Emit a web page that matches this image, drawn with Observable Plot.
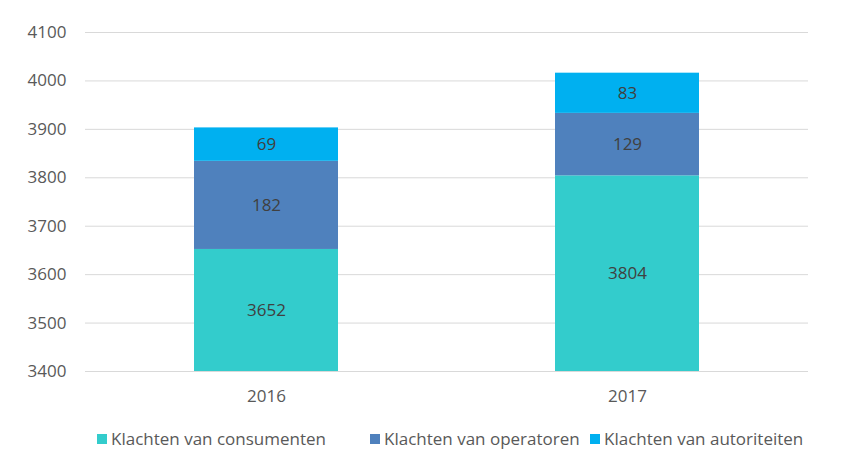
<!DOCTYPE html>
<html>
<head>
<meta charset="utf-8">
<script src="https://cdn.jsdelivr.net/npm/d3@7"></script>
<script src="https://cdn.jsdelivr.net/npm/@observablehq/plot@0.6"></script>
<style>
  body { margin: 0; background: #fff; font-family: "Open Sans", sans-serif; }
  #wrap { position: relative; width: 846px; height: 467px; }
  .leg { position: absolute; top: 427px; font-size: 17px; color: #595959; white-space: nowrap; display: flex; align-items: center; }
  .leg span.sw { display: inline-block; width: 10px; height: 10px; margin-right: 4px; }
</style>
</head>
<body>
<div id="wrap"><div id="chart"></div></div>
<script>
const years = ["2016", "2017"];
const seriesNames = ["Klachten van consumenten", "Klachten van operatoren", "Klachten van autoriteiten"];
const consumenten = [3652, 3804];
const operatoren = [182, 129];
const autoriteiten = [69, 83];
const colors = ["#33CCCC", "#4F81BD", "#00B0F0"];
const yTicks = [3400, 3500, 3600, 3700, 3800, 3900, 4000, 4100];
const legendLeft = [97, 370, 590];

const seriesValues = [consumenten, operatoren, autoriteiten];
const rows = [];
years.forEach((yr, i) => {
  let base = 0;
  seriesValues.forEach((vals, s) => {
    const v = vals[i];
    const lo = Math.max(base, yTicks[0]);
    const hi = Math.min(base + v, yTicks[yTicks.length - 1]);
    rows.push({year: yr, series: seriesNames[s], value: v, mid: (lo + hi) / 2});
    base += v;
  });
});

const chart = Plot.plot({
  width: 846,
  height: 410,
  marginLeft: 85,
  marginRight: 38,
  marginTop: 32,
  marginBottom: 39,
  style: {fontFamily: "Open Sans, sans-serif", fontSize: "17px", color: "#595959", background: "#fff"},
  x: {domain: years, paddingInner: 0.6, paddingOuter: 0.3, label: null},
  y: {domain: [3400, 4100], label: null},
  color: {domain: seriesNames, range: colors},
  marks: [
    Plot.ruleY(yTicks, {stroke: "#d9d9d9", strokeWidth: 1}),
    Plot.barY(rows, Plot.stackY({x: "year", y: "value", fill: "series", order: seriesNames, clip: true})),
    Plot.text(rows, {x: "year", y: "mid", text: d => String(d.value), fill: "#404040", fontSize: 17}),
    Plot.axisY(yTicks, {tickSize: 0, tickPadding: 19, fill: "#595959", fontSize: 17, label: null, tickFormat: d => String(d)}),
    Plot.axisX({tickSize: 0, tickPadding: 18, fill: "#595959", fontSize: 17, label: null})
  ]
});
document.getElementById("chart").appendChild(chart);

const wrap = document.getElementById("wrap");
seriesNames.forEach((name, i) => {
  const d = document.createElement("div");
  d.className = "leg";
  d.style.left = legendLeft[i] + "px";
  d.innerHTML = `<span class="sw" style="background:${colors[i]}"></span>${name}`;
  wrap.appendChild(d);
});
</script>
</body>
</html>
